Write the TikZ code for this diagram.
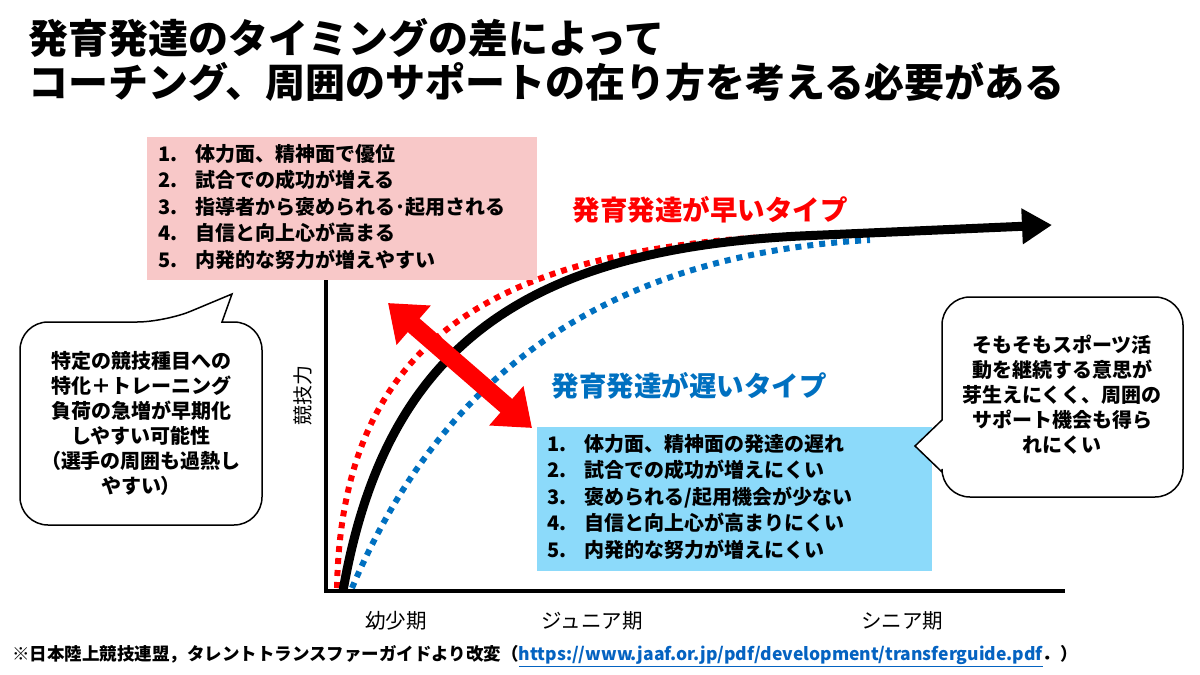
\documentclass[tikz,border=0pt]{standalone}
\usepackage{fontspec}
\setmainfont{Noto Sans CJK JP}
\usetikzlibrary{arrows.meta}
\definecolor{pinkbox}{RGB}{248,200,200}
\definecolor{bluebox}{RGB}{140,218,250}
\definecolor{myred}{RGB}{255,0,0}
\definecolor{myblue}{RGB}{0,112,192}
\definecolor{linkblue}{RGB}{5,99,193}
\tikzset{
  bubble/.style={draw=black,line width=1.5pt,fill=white},
  listtxt/.style={anchor=north west,align=left,font=\fontsize{20}{26.5}\selectfont\bfseries,inner sep=0pt},
  bubtxt/.style={align=center,font=\fontsize{20}{25}\selectfont\bfseries},
  dotcurve/.style={line width=6pt,dash pattern=on 6pt off 6pt},
}
\begin{document}
\begin{tikzpicture}[x=1pt,y=-1pt]
\useasboundingbox (0,0) rectangle (1200,675);
\node[anchor=west,font=\fontsize{40}{44}\selectfont\bfseries,align=left,inner sep=0pt] (title) at (28,60) {発育発達のタイミングの差によって\\コーチング、周囲のサポートの在り方を考える必要がある};
% axes
\coordinate (o) at (326,591);
\coordinate (ytop) at (326,280);
\coordinate (xend) at (1065,591);
\draw[line width=3.5pt] (ytop) -- (o) -- (xend);
% curves
\coordinate (s1) at (343,591);
\coordinate (e1) at (1052,225);
\draw[dotcurve,myred] (337,588) .. controls (342,320) and (520,240) .. (840,234);
\draw[dotcurve,myblue] (352,588) .. controls (440,380) and (600,255) .. (870,240);
\draw[line width=9pt,-{Triangle[width=34pt,length=30pt]}] (s1) .. controls (385,350) and (520,250) .. (800,236) -- (e1);
% red double arrow
\coordinate (a1) at (388,303);
\coordinate (a2) at (532,428);
\draw[myred,line width=18pt,{Triangle[width=50pt,length=34pt]}-{Triangle[width=50pt,length=34pt]}] (a1) -- (a2);
% pink box
\node[fill=pinkbox,minimum width=390pt,minimum height=143pt,anchor=north west] (pink) at (147,137) {};
\node[listtxt] (plist) at (158,144) {1.\hspace{0.9em}体力面、精神面で優位\\2.\hspace{0.9em}試合での成功が増える\\3.\hspace{0.9em}指導者から褒められる･起用される\\4.\hspace{0.9em}自信と向上心が高まる\\5.\hspace{0.9em}内発的な努力が増えやすい};
% blue box
\node[fill=bluebox,minimum width=395pt,minimum height=144pt,anchor=north west] (blue) at (537,427) {};
\node[listtxt] (blist) at (547,434) {1.\hspace{0.9em}体力面、精神面の発達の遅れ\\2.\hspace{0.9em}試合での成功が増えにくい\\3.\hspace{0.9em}褒められる/起用機会が少ない\\4.\hspace{0.9em}自信と向上心が高まりにくい\\5.\hspace{0.9em}内発的な努力が増えにくい};
% labels
\node[myred,font=\fontsize{27.5}{30}\selectfont\bfseries] (early) at (710,210) {発育発達が早いタイプ};
\node[myblue,font=\fontsize{27.5}{30}\selectfont\bfseries] (late) at (689,386) {発育発達が遅いタイプ};
% bubbles
\draw[bubble,rounded corners=28pt] (20,425) |- (165,322) [sharp corners]-- (232,294) -- (222,322) [rounded corners=28pt]-- (262,322) |- (20,525) -- cycle;
\node[bubtxt] (lb) at (141,423) {特定の競技種目への\\特化＋トレーニング\\負荷の急増が早期化\\しやすい可能性\\（選手の周囲も過熱し\\やすい）};
\draw[bubble,rounded corners=28pt] (942,420) |- (1183,297) |- (942,497) [sharp corners]-- (942,472) -- (915,446) -- (942,420) -- cycle;
\node[bubtxt] (rb) at (1062,395) {そもそもスポーツ活\\動を継続する意思が\\芽生えにくく、周囲の\\サポート機会も得ら\\れにくい};
% axis labels
\node[rotate=90,font=\fontsize{20}{22}\selectfont] (ylab) at (303,395) {競技力};
\node[font=\fontsize{20.5}{22}\selectfont] (x1) at (396,621) {幼少期};
\node[font=\fontsize{20.5}{22}\selectfont] (x2) at (592,621) {ジュニア期};
\node[font=\fontsize{20.5}{22}\selectfont] (x3) at (902,621) {シニア期};
\node[anchor=west,inner sep=0pt,font=\fontsize{17.5}{20}\selectfont\bfseries] (foot) at (12,656) {※日本陸上競技連盟，タレントトランスファーガイドより改変（\textcolor{linkblue}{\underline{https://www.jaaf.or.jp/pdf/development/transferguide.pdf}}．）};
\end{tikzpicture}
\end{document}
